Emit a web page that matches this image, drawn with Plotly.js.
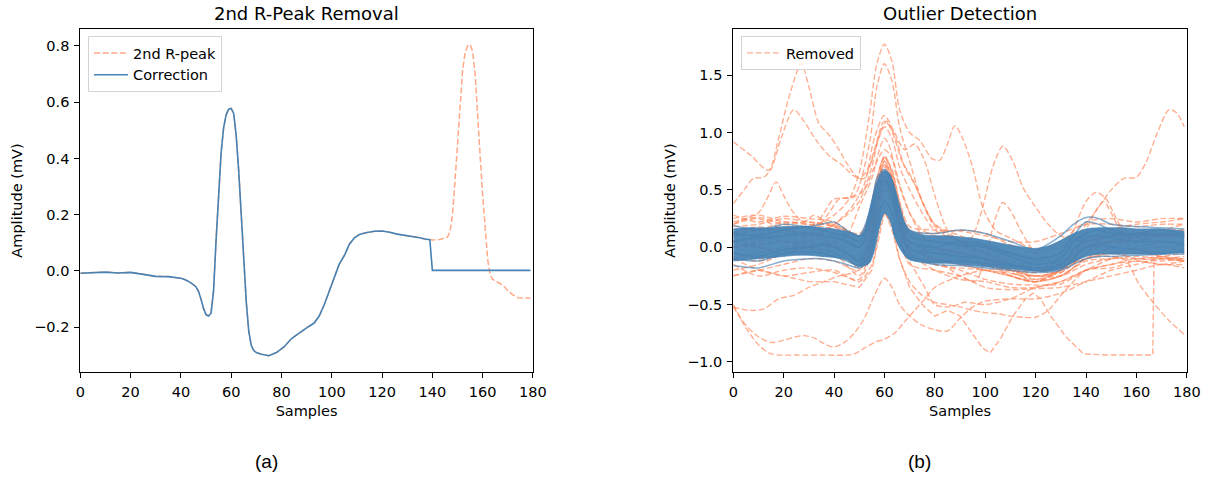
<!DOCTYPE html>
<html><head><meta charset="utf-8">
<script src="https://cdn.plot.ly/plotly-3.0.1.min.js"></script>
<style>html,body{margin:0;padding:0;background:#fff}#chart{width:1211px;height:479px}</style>
</head><body><div id="chart"></div>
<script>
// ---------- Panel (a): 2nd R-Peak Removal ----------
const corrX = [0,5,10,15,20,25,30,35,40,42,44,46,47,48,49,50,51,52,53,54,55,56,57,58,59,60,61,62,63,64,65,66,67,68,69,70,72,75,78,81,84,87,90,93,95,97,99,101,103,105,107,109,111,114,117,120,123,126,129,132,135,137,139,140,150,160,170,179];
const corrY = [-0.008,-0.006,-0.004,-0.007,-0.005,-0.012,-0.019,-0.020,-0.026,-0.032,-0.042,-0.056,
  -0.072,-0.100,-0.133,-0.155,-0.160,-0.150,-0.070,0.110,0.280,0.420,0.510,0.555,0.575,0.578,0.560,0.480,0.355,0.200,0.030,-0.110,-0.215,-0.265,-0.283,-0.290,
  -0.296,-0.301,-0.290,-0.270,-0.240,-0.220,-0.202,-0.185,
  -0.160,-0.120,-0.070,-0.020,0.025,0.055,0.095,0.118,0.130,
  0.137,0.141,0.142,0.138,0.131,0.127,0.124,0.118,0.114,0.111,
  0.002,0.002,0.002,0.002,0.002];
const peakX = [140,143,146,147,148,149,150,151,152,153,154,155,156,157,158,159,160,161,162,163,164,166,168,170,172,174,176,179];
const peakY = [0.110,0.112,0.120,0.14,0.20,0.32,0.46,0.60,0.71,0.775,0.80,0.805,0.78,0.70,0.57,0.41,0.27,0.14,0.04,-0.015,-0.03,-0.04,-0.05,-0.07,-0.085,-0.095,-0.096,-0.097];

// ---------- Panel (b): Outlier Detection ----------
// dense band of kept beats (upper / lower envelope)
const bandX = [0,5,10,15,20,25,30,35,40,45,48,50,52,54,56,58,60,62,64,66,68,70,75,80,85,90,95,100,105,110,115,120,125,130,135,140,145,150,155,160,165,170,175,179];
const bandUpper = [0.16,0.17,0.17,0.17,0.18,0.18,0.18,0.17,0.16,0.14,0.12,0.10,0.15,0.32,0.50,0.62,0.67,0.64,0.53,0.37,0.22,0.15,0.11,0.10,0.10,0.09,0.08,0.06,0.04,0.02,0.00,-0.01,0.01,0.06,0.12,0.16,0.17,0.17,0.17,0.16,0.16,0.16,0.15,0.14];
const bandLower = [-0.12,-0.11,-0.10,-0.09,-0.08,-0.07,-0.07,-0.08,-0.09,-0.11,-0.15,-0.17,-0.16,-0.14,-0.03,0.17,0.30,0.25,0.09,0.00,-0.07,-0.11,-0.13,-0.14,-0.14,-0.15,-0.16,-0.17,-0.18,-0.19,-0.20,-0.21,-0.21,-0.19,-0.13,-0.08,-0.06,-0.06,-0.06,-0.06,-0.06,-0.06,-0.05,-0.05];
// individual kept beats at the edges of the band
const keptX = [0,10,20,30,35,40,45,50,54,57,60,63,66,70,80,90,100,110,120,130,135,140,145,150,160,170,179];
const keptY = [
  [0.19,0.15,0.20,0.18,0.20,0.22,0.15,0.10,0.30,0.55,0.66,0.55,0.30,0.15,0.12,0.15,0.12,0.05,-0.02,0.10,0.20,0.26,0.25,0.20,0.18,0.17,0.16],
  [-0.16,-0.18,-0.12,-0.10,-0.10,-0.12,-0.15,-0.18,-0.12,0.15,0.30,0.20,0.00,-0.10,-0.15,-0.16,-0.18,-0.20,-0.22,-0.20,-0.15,-0.10,-0.08,-0.08,-0.07,-0.06,-0.06],
  [0.05,0.08,0.10,0.12,0.10,0.08,0.05,0.00,0.20,0.50,0.62,0.50,0.20,0.05,0.00,0.05,0.02,-0.05,-0.10,-0.05,0.10,0.22,0.20,0.15,0.10,0.12,0.10],
  [-0.05,-0.08,-0.02,0.00,0.02,0.00,-0.05,-0.12,0.00,0.40,0.58,0.45,0.15,-0.02,-0.05,-0.08,-0.10,-0.15,-0.18,-0.15,-0.02,0.08,0.10,0.08,0.05,0.05,0.02],
  [0.12,0.10,0.15,0.18,0.15,0.12,0.10,0.05,0.25,0.60,0.68,0.58,0.30,0.10,0.05,0.02,0.00,-0.08,-0.15,-0.10,0.05,0.12,0.15,0.12,0.12,0.15,0.12],
  [-0.10,-0.12,-0.06,-0.04,-0.05,-0.08,-0.12,-0.16,-0.08,0.20,0.40,0.30,0.05,-0.08,-0.12,-0.12,-0.14,-0.16,-0.20,-0.18,-0.10,0.00,0.02,0.00,-0.02,-0.05,-0.04]
];
// removed beats close to the band (shared sample positions)
const nearX = [0,10,20,30,40,50,54,57,60,63,66,70,80,90,100,110,120,130,140,150,160,170,179];
const nearY = [
  [0.25,0.28,0.22,0.20,0.20,0.10,0.30,0.60,0.78,0.65,0.40,0.18,0.15,0.14,0.10,0.05,0.05,0.12,0.20,0.20,0.18,0.20,0.20],
  [-0.25,-0.20,-0.15,-0.10,-0.12,-0.20,0.10,0.50,0.75,0.60,0.30,0.00,-0.10,-0.15,-0.20,-0.25,-0.30,-0.25,-0.12,-0.10,-0.08,-0.10,-0.12],
  [0.10,0.12,0.20,0.22,0.18,0.05,0.25,0.55,0.72,0.62,0.35,0.10,0.00,-0.05,-0.12,-0.20,-0.25,-0.22,-0.05,0.05,0.10,0.12,0.15],
  [0.05,0.00,-0.05,0.00,-0.05,-0.25,-0.05,0.40,0.68,0.55,0.25,-0.05,-0.20,-0.28,-0.30,-0.35,-0.35,-0.30,-0.20,-0.15,-0.12,-0.15,-0.12],
  [0.28,0.22,0.27,0.25,0.22,0.10,0.20,0.50,0.70,0.60,0.35,0.15,0.12,0.15,0.12,0.02,-0.05,0.05,0.22,0.25,0.22,0.25,0.25],
  [-0.15,-0.25,-0.20,-0.18,-0.22,-0.28,-0.10,0.30,0.50,0.40,0.10,-0.15,-0.20,-0.25,-0.35,-0.37,-0.36,-0.35,-0.30,-0.25,-0.20,-0.15,-0.18],
  [0.12,0.15,0.22,0.20,0.15,0.00,0.15,0.55,0.80,0.65,0.30,0.05,-0.02,-0.05,-0.10,-0.18,-0.22,-0.15,0.05,0.10,0.12,0.10,0.12],
  [-0.08,-0.12,-0.05,0.00,0.02,-0.12,0.10,0.50,0.75,0.60,0.25,0.00,-0.05,-0.08,-0.15,-0.25,-0.30,-0.25,-0.10,-0.05,-0.02,0.00,-0.02],
  [0.18,0.20,0.25,0.22,0.18,0.12,0.25,0.60,0.78,0.68,0.40,0.12,0.05,0.02,-0.05,-0.15,-0.20,-0.22,-0.05,0.05,0.08,0.05,0.05],
  [0.05,0.00,-0.02,0.02,0.00,-0.18,0.00,0.45,0.72,0.55,0.20,-0.05,-0.15,-0.20,-0.28,-0.32,-0.33,-0.32,-0.20,-0.10,-0.05,-0.08,-0.10]
];
// removed beats with their own sample positions
const removedX = [
  [0,10,20,30,40,46,50,54,57,60,63,66,70,74,79,82,85,88,91,95,99,104,110,120,130,140,150,160,170,179],
  [0,10,20,30,38,42,48,54,57,60,63,66,70,75,80,90,100,110,120,130,140,150,160,170,179],
  [0,10,20,30,40,47,52,56,60,64,68,72,76,80,85,90,100,110,120,130,140,150,160,170,179],
  [0,10,20,30,40,45,50,55,58,61,64,67,71,75,80,90,100,110,120,130,140,150,160,170,179],
  [0,10,20,30,40,45,50,55,58,60,62,65,70,75,80,90,100,110,120,130,140,150,160,170,179],
  [0,10,20,30,36,40,47,52,56,60,63,66,70,75,80,90,100,110,120,130,140,150,160,170,179],
  [0,7,14,18,22,27,30,34,38,42,46,50,54,57,60,63,66,70,75,80,90,100,110,120,130,140,150,160,170,179],
  [0,5,8,12,15,19,24,28,33,38,43,48,52,56,60,64,68,72,76,80,90,100,110,120,130,140,150,160,170,179],
  [0,5,10,14,17,20,24,28,32,38,44,50,54,57,60,63,66,70,80,90,100,110,120,130,140,150,160,170,179],
  [0,10,20,30,40,50,55,58,60,63,66,70,80,90,95,99,103,107,111,115,120,125,130,140,150,160,170,179],
  [0,10,20,30,40,50,55,58,60,63,66,70,80,90,96,100,104,107,110,114,120,130,140,150,160,170,179],
  [0,10,20,30,40,50,55,58,60,63,66,70,80,90,100,110,120,125,130,135,140,145,150,155,160,164,168,173,176,179],
  [0,10,20,30,40,50,55,58,60,63,66,70,80,90,100,110,120,125,130,135,140,144,148,152,156,160,170,179],
  [0,20,40,50,55,58,60,63,66,70,80,100,120,130,136,140,144,147,150,154,158,165,172,179],
  [0,5,10,15,25,35,45,48,52,56,60,64,68,72,76,80,90,100,110,120,130,140,150,160,170,179],
  [0,5,10,15,20,25,28,32,36,40,44,48,52,56,60,63,66,70,75,80,85,90,95,100,110,120,130,140,150,160,170,179],
  [0,6,12,18,24,30,36,42,48,52,56,60,64,68,72,76,80,86,92,100,110,120,130,140,150,160,170,179],
  [0,10,20,30,40,50,55,58,60,63,66,70,75,80,85,90,95,100,105,110,115,120,125,130,135,140,150,160,170,179],
  [0,10,20,30,40,50,55,58,60,63,66,70,80,90,100,110,120,130,140,150,156,161,167,173,179]
];
const removedY = [
  [0.22,0.26,0.20,0.18,0.28,0.42,0.65,1.15,1.60,1.77,1.62,1.20,1.00,0.93,0.77,0.76,0.90,1.06,0.95,0.70,0.35,0.15,0.08,-0.02,0.00,0.10,0.12,0.12,0.10,0.10],
  [0.12,0.18,0.12,0.10,0.30,0.42,0.45,0.90,1.40,1.60,1.45,1.05,0.75,0.40,0.18,0.05,0.00,-0.05,-0.12,-0.08,0.05,0.10,0.08,0.10,0.08],
  [0.05,0.10,0.15,0.10,0.20,0.35,0.55,0.95,1.15,1.00,0.85,0.90,0.75,0.45,0.15,0.05,-0.10,-0.20,-0.25,-0.20,0.00,0.05,0.00,0.05,0.02],
  [-0.10,-0.05,0.00,0.05,0.20,0.28,0.40,0.70,0.98,1.10,0.95,0.75,0.60,0.40,0.20,0.10,0.02,-0.15,-0.28,-0.25,-0.10,0.00,0.10,0.15,0.20],
  [0.20,0.25,0.15,0.10,0.05,0.10,0.35,0.60,0.85,0.95,0.88,0.60,0.30,0.15,0.10,0.00,-0.05,-0.20,-0.30,-0.20,-0.05,0.15,0.20,0.22,0.25],
  [-0.20,-0.15,-0.05,0.10,0.30,0.42,0.43,0.50,0.70,0.85,0.78,0.55,0.30,0.10,0.00,-0.05,-0.10,-0.15,-0.20,-0.15,0.00,0.05,0.05,0.10,0.10],
  [0.92,0.80,0.67,0.95,1.30,1.60,1.40,1.08,0.98,0.85,0.70,0.60,0.70,0.90,1.05,0.95,0.70,0.50,0.30,0.15,0.05,0.00,-0.05,-0.10,-0.05,0.05,0.10,0.10,0.12,0.12],
  [0.38,0.52,0.60,0.61,0.68,0.95,1.20,1.10,0.93,0.80,0.72,0.62,0.60,0.85,1.10,0.98,0.70,0.55,0.35,0.20,0.05,-0.05,-0.12,-0.18,-0.12,0.00,0.05,0.05,0.10,0.10],
  [0.20,0.25,0.30,0.45,0.57,0.45,0.30,0.22,0.28,0.20,0.15,0.00,0.15,0.45,0.62,0.50,0.25,0.05,-0.05,-0.10,-0.15,-0.22,-0.28,-0.20,0.00,0.10,0.12,0.15,0.15],
  [0.00,0.05,0.10,0.12,0.10,0.00,0.20,0.50,0.62,0.50,0.25,0.05,-0.05,0.00,0.10,0.35,0.70,0.88,0.75,0.52,0.35,0.20,0.10,0.05,0.10,0.12,0.10,0.10],
  [-0.05,-0.10,-0.05,0.00,0.05,-0.05,0.15,0.45,0.58,0.45,0.20,0.00,-0.10,-0.25,-0.30,-0.10,0.25,0.39,0.32,0.15,-0.05,-0.15,-0.10,-0.05,-0.10,-0.10,-0.08],
  [0.10,0.15,0.15,0.12,0.10,0.00,0.20,0.50,0.60,0.45,0.20,0.05,0.00,-0.05,-0.10,-0.25,-0.30,-0.25,-0.10,0.05,0.20,0.35,0.50,0.60,0.61,0.75,0.98,1.20,1.17,1.05],
  [0.05,0.10,0.05,0.00,-0.05,-0.15,0.10,0.45,0.60,0.45,0.20,0.00,-0.10,-0.12,-0.15,-0.20,-0.22,-0.18,-0.05,0.15,0.40,0.48,0.42,0.25,0.10,0.05,0.00,0.02],
  [0.00,0.05,0.00,-0.10,0.10,0.40,0.55,0.40,0.15,-0.05,-0.15,-0.20,-0.25,-0.20,-0.05,0.15,0.32,0.40,0.30,0.12,0.00,-0.05,-0.10,-0.12],
  [-0.50,-0.70,-0.85,-0.93,-0.94,-0.94,-0.94,-0.93,-0.88,-0.83,-0.80,-0.75,-0.65,-0.55,-0.45,-0.35,-0.25,-0.20,-0.20,-0.25,-0.25,-0.15,-0.10,-0.10,-0.08,-0.05],
  [-0.52,-0.68,-0.78,-0.83,-0.81,-0.78,-0.77,-0.79,-0.84,-0.87,-0.83,-0.75,-0.62,-0.42,-0.27,-0.35,-0.50,-0.60,-0.68,-0.72,-0.73,-0.62,-0.52,-0.47,-0.45,-0.45,-0.40,-0.30,-0.20,-0.15,-0.10,-0.10],
  [-0.52,-0.55,-0.54,-0.45,-0.42,-0.35,-0.30,-0.25,-0.22,-0.15,0.15,0.40,0.25,-0.05,-0.20,-0.35,-0.50,-0.52,-0.48,-0.50,-0.45,-0.35,-0.30,-0.20,-0.15,-0.10,-0.12,-0.10],
  [-0.25,-0.20,-0.25,-0.22,-0.20,-0.30,-0.15,0.15,0.30,0.15,-0.10,-0.30,-0.42,-0.48,-0.50,-0.52,-0.55,-0.57,-0.58,-0.60,-0.61,-0.61,-0.55,-0.42,-0.30,-0.20,-0.18,-0.12,-0.15,-0.15],
  [0.00,0.02,0.05,0.05,0.02,-0.08,0.10,0.35,0.50,0.38,0.15,-0.05,-0.10,-0.15,-0.20,-0.25,-0.30,-0.20,-0.10,-0.08,-0.12,-0.32,-0.49,-0.64,-0.76]
];
// removed beat that jumps back up at the end
const jumpX = [0,10,20,30,40,50,55,58,60,63,66,70,75,80,85,90,95,99,102,106,111,116,119,122,126,132,139,150,160,166.5,167,170,175,179];
const jumpY = [-0.10,-0.20,-0.25,-0.30,-0.30,-0.35,-0.20,0.10,0.30,0.20,-0.10,-0.35,-0.50,-0.60,-0.55,-0.60,-0.75,-0.88,-0.92,-0.80,-0.60,-0.45,-0.40,-0.45,-0.60,-0.78,-0.93,-0.94,-0.94,-0.94,-0.10,-0.08,-0.10,-0.12];

const xTicks = [0,20,40,60,80,100,120,140,160,180];

// ---------- styles ----------
const FONT = 'DejaVu Sans, Verdana, sans-serif';
const BLUE = '#4682b4';
const SALMON_A = 'rgba(255,160,122,0.9)';
const CORAL = 'rgba(255,127,80,0.62)';
const DASH = '6px,2.6px';

const traces = [];
// panel (a)
const nBefore = corrX.filter(v => v <= 139).length;
const leftOrangeX = corrX.slice(0, nBefore).concat(peakX);
const leftOrangeY = corrY.slice(0, nBefore).concat(peakY);
traces.push({x: leftOrangeX, y: leftOrangeY, type: 'scatter', mode: 'lines', name: '2nd R-peak',
  line: {color: SALMON_A, width: 1.5, dash: DASH}, xaxis: 'x', yaxis: 'y', legend: 'legend', legendrank: 1});
traces.push({x: corrX, y: corrY, type: 'scatter', mode: 'lines', name: 'Correction',
  line: {color: BLUE, width: 1.6}, xaxis: 'x', yaxis: 'y', legend: 'legend', legendrank: 2});

// panel (b) removed beats
let first = true;
function addRemoved(xs, ys, shape) {
  traces.push({x: xs, y: ys, type: 'scatter', mode: 'lines', name: 'Removed',
    showlegend: first, legend: 'legend2',
    line: {color: CORAL, width: 1.4, dash: DASH, shape: shape || 'spline', smoothing: 0.8},
    xaxis: 'x2', yaxis: 'y2'});
  first = false;
}
for (let i = 0; i < removedX.length; i++) addRemoved(removedX[i], removedY[i]);
for (let i = 0; i < nearY.length; i++) addRemoved(nearX, nearY[i]);
addRemoved(jumpX, jumpY, 'linear');

// panel (b) kept beats: band + individual lines
traces.push({x: bandX, y: bandLower, type: 'scatter', mode: 'lines', showlegend: false,
  line: {color: 'rgba(70,130,180,0.7)', width: 1, shape: 'spline', smoothing: 0.8}, xaxis: 'x2', yaxis: 'y2', hoverinfo: 'skip'});
traces.push({x: bandX, y: bandUpper, type: 'scatter', mode: 'lines', showlegend: false, fill: 'tonexty',
  fillcolor: 'rgba(70,130,180,0.93)',
  line: {color: 'rgba(70,130,180,0.7)', width: 1, shape: 'spline', smoothing: 0.8}, xaxis: 'x2', yaxis: 'y2', hoverinfo: 'skip'});
for (let i = 0; i < keptY.length; i++) {
  traces.push({x: keptX, y: keptY[i], type: 'scatter', mode: 'lines', showlegend: false,
    line: {color: 'rgba(70,130,180,0.65)', width: 1.5, shape: 'spline', smoothing: 0.8}, xaxis: 'x2', yaxis: 'y2'});
}

const axisCommon = {
  showline: true, mirror: true, linecolor: '#000', linewidth: 1,
  ticks: 'outside', ticklen: 5, tickwidth: 1, tickcolor: '#000',
  showgrid: false, zeroline: false, ticklabelstandoff: 2,
  tickfont: {family: FONT, size: 14.5, color: '#000'}
};
const yDom = [0.2240, 0.9388];
const titleFont = {family: FONT, size: 14.5, color: '#000'};
const layout = {
  width: 1211, height: 479,
  margin: {l: 0, r: 0, t: 0, b: 0},
  paper_bgcolor: '#fff', plot_bgcolor: '#fff',
  font: {family: FONT, size: 14.5, color: '#000'},
  xaxis: Object.assign({}, axisCommon, {domain: [0.0663, 0.4401], range: [0, 180], tickvals: xTicks, anchor: 'y',
    title: {text: 'Samples', font: titleFont, standoff: 6}}),
  yaxis: Object.assign({}, axisCommon, {domain: yDom, range: [-0.358, 0.859], tick0: 0, dtick: 0.2, tickformat: '.1f', anchor: 'x',
    title: {text: 'Amplitude (mV)', font: titleFont, standoff: 8}}),
  xaxis2: Object.assign({}, axisCommon, {domain: [0.6055, 0.9800], range: [0, 180], tickvals: xTicks, anchor: 'y2',
    title: {text: 'Samples', font: titleFont, standoff: 6}}),
  yaxis2: Object.assign({}, axisCommon, {domain: yDom, range: [-1.085, 1.90], tick0: 0, dtick: 0.5, tickformat: '.1f', anchor: 'x2',
    title: {text: 'Amplitude (mV)', font: titleFont, standoff: 8}}),
  legend: {x: 0.0727, y: 0.9249, xanchor: 'left', yanchor: 'top', bgcolor: 'rgba(255,255,255,0.8)', traceorder: 'normal',
    bordercolor: '#d4d4d4', borderwidth: 1, font: {family: FONT, size: 14.5, color: '#000'}, tracegroupgap: 0, itemwidth: 34},
  legend2: {x: 0.6119, y: 0.9249, xanchor: 'left', yanchor: 'top', bgcolor: 'rgba(255,255,255,0.8)', traceorder: 'normal',
    bordercolor: '#d4d4d4', borderwidth: 1, font: {family: FONT, size: 14.5, color: '#000'}, itemwidth: 34},
  annotations: [
    {text: '2nd R-Peak Removal', xref: 'paper', yref: 'paper', x: 0.2532, y: 0.9708, xanchor: 'center', yanchor: 'middle',
      showarrow: false, font: {family: FONT, size: 18, color: '#000'}},
    {text: 'Outlier Detection', xref: 'paper', yref: 'paper', x: 0.7928, y: 0.9708, xanchor: 'center', yanchor: 'middle',
      showarrow: false, font: {family: FONT, size: 18, color: '#000'}},
    {text: '(a)', xref: 'paper', yref: 'paper', x: 0.2197, y: 0.0355, xanchor: 'center', yanchor: 'middle',
      showarrow: false, font: {family: 'Liberation Sans, Arial, sans-serif', size: 19, color: '#000'}},
    {text: '(b)', xref: 'paper', yref: 'paper', x: 0.7597, y: 0.0355, xanchor: 'center', yanchor: 'middle',
      showarrow: false, font: {family: 'Liberation Sans, Arial, sans-serif', size: 19, color: '#000'}}
  ]
};
Plotly.newPlot('chart', traces, layout, {staticPlot: true, displayModeBar: false});
</script>
</body></html>
